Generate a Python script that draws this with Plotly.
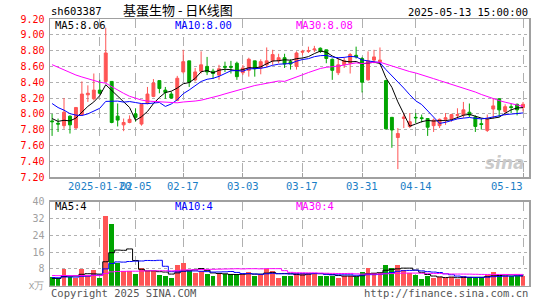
import plotly.graph_objects as go

# ---------------- data ----------------
opens = [7.91, 7.88, 7.85, 7.97, 7.82, 7.99, 8.24, 8.19, 8.30, 8.41,
         8.41, 7.97, 7.86, 7.89, 8.00, 7.87, 8.13, 8.22, 8.42, 8.30,
         8.25, 8.17, 8.53, 8.67, 8.43, 8.54, 8.60, 8.54, 8.49, 8.60,
         8.60, 8.64, 8.52, 8.55, 8.67, 8.58, 8.62, 8.67, 8.67, 8.71,
         8.66, 8.60, 8.78, 8.79, 8.81, 8.83, 8.81, 8.69, 8.52, 8.62,
         8.64, 8.74, 8.70, 8.43, 8.68, 8.66, 8.42, 7.955, 7.70, 7.94,
         7.84, 7.955, 7.95, 7.94, 7.85, 7.85, 7.93, 7.93, 7.98, 7.985,
         8.02, 7.96, 7.875, 7.79, 8.06, 8.19, 8.03, 8.09, 8.12, 8.08]
highs = [8.00, 7.94, 8.20, 7.98, 8.08, 8.41, 8.36, 8.51, 8.43, 9.09,
         8.41, 8.13, 7.94, 7.98, 8.07, 8.13, 8.34, 8.44, 8.42, 8.34,
         8.28, 8.48, 8.81, 8.67, 8.58, 8.79, 8.72, 8.57, 8.62, 8.66,
         8.67, 8.66, 8.62, 8.71, 8.67, 8.69, 8.84, 8.81, 8.76, 8.76,
         8.69, 8.79, 8.81, 8.85, 8.86, 8.84, 8.81, 8.70, 8.71, 8.71,
         8.77, 8.85, 8.72, 8.79, 8.81, 8.84, 8.43, 7.96, 7.82, 8.01,
         8.01, 8.01, 7.99, 7.94, 7.94, 7.94, 8.01, 8.00, 8.07, 8.15,
         8.13, 7.98, 7.94, 7.99, 8.20, 8.20, 8.12, 8.13, 8.13, 8.15]
lows = [7.72, 7.77, 7.81, 7.75, 7.81, 7.98, 8.15, 8.17, 8.25, 8.40,
        7.88, 7.84, 7.78, 7.88, 7.90, 7.85, 8.12, 8.21, 8.26, 8.19,
        8.19, 8.16, 8.51, 8.34, 8.41, 8.51, 8.49, 8.44, 8.43, 8.53,
        8.51, 8.43, 8.49, 8.47, 8.47, 8.50, 8.59, 8.62, 8.64, 8.58,
        8.56, 8.56, 8.74, 8.77, 8.78, 8.77, 8.64, 8.43, 8.49, 8.58,
        8.51, 8.70, 8.27, 8.42, 8.64, 8.62, 7.80, 7.57, 7.30, 7.82,
        7.82, 7.88, 7.89, 7.72, 7.77, 7.82, 7.86, 7.90, 7.94, 7.95,
        7.96, 7.77, 7.80, 7.77, 7.94, 7.96, 7.98, 8.01, 7.98, 8.03]
closes = [7.90, 7.87, 8.02, 7.86, 8.08, 8.25, 8.26, 8.30, 8.26, 8.77,
          7.89, 7.92, 7.89, 7.93, 7.955, 8.12, 8.25, 8.39, 8.32, 8.27,
          8.20, 8.45, 8.66, 8.40, 8.53, 8.62, 8.53, 8.51, 8.57, 8.59,
          8.59, 8.47, 8.58, 8.69, 8.57, 8.66, 8.67, 8.75, 8.71, 8.63,
          8.63, 8.77, 8.79, 8.80, 8.82, 8.79, 8.70, 8.55, 8.62, 8.67,
          8.75, 8.72, 8.40, 8.67, 8.72, 8.68, 7.81, 7.795, 7.75, 7.96,
          7.90, 7.95, 7.94, 7.83, 7.92, 7.93, 7.95, 7.99, 7.99, 8.05,
          7.985, 7.84, 7.865, 7.93, 8.10, 8.05, 8.09, 8.08, 8.05, 8.12]
volumes = [4.0, 3.2, 7.9, 4.3, 3.8, 7.9, 4.6, 7.5, 3.8, 33.2,
           29.5, 10.8, 7.0, 7.0, 5.7, 8.6, 7.0, 7.0, 5.1, 4.8,
           3.8, 9.8, 11.0, 6.9, 6.2, 6.9, 5.6, 4.8, 5.6, 5.4,
           5.4, 5.4, 5.6, 6.7, 4.4, 5.4, 7.9, 7.2, 3.8, 4.8,
           4.8, 6.0, 6.0, 6.0, 6.0, 4.8, 4.8, 4.8, 3.8, 4.8,
           4.8, 4.0, 6.5, 8.4, 6.0, 6.0, 9.8, 8.6, 9.8, 7.6,
           6.0, 5.2, 3.2, 4.8, 3.8, 4.0, 3.6, 4.3, 3.3, 4.4,
           4.0, 4.0, 4.0, 5.2, 6.3, 4.8, 4.8, 4.6, 4.6, 4.6]
# sessions before the visible window (only feed the moving averages)
prior_close = [8.90, 8.95, 9.00, 8.92, 8.98, 8.95, 8.90, 8.96,
               9.15, 9.25, 9.20, 9.10, 9.05,
               8.80, 8.70, 8.65, 8.55, 8.50, 8.45, 8.40, 8.38, 8.35,
               8.30, 8.27, 8.30, 8.05, 7.95, 7.90, 7.90]
prior_volume = [5.2, 5.6, 5.0, 5.4, 5.8, 5.1, 5.3, 5.5, 4.9, 5.2,
                5.6, 5.3, 5.0, 5.4, 5.2, 5.5, 5.1, 5.3, 5.4, 5.2,
                4.5, 4.1, 4.4, 4.2, 4.3, 3.6, 3.2, 3.5, 3.3]

tick_idx = [8, 14, 22, 32, 42, 52, 61, 79]
tick_labels = ["2025-01-20", "02-05", "02-17", "03-03", "03-17", "03-31", "04-14", "05-13"]
price_ticks = [7.2, 7.4, 7.6, 7.8, 8.0, 8.2, 8.4, 8.6, 8.8, 9.0, 9.2]
vol_ticks = [0, 8, 16, 24, 32, 40]
vol_tick_text = ["x万", "8", "16", "24", "32", "40"]

title_code = "sh603387"
title_name = "基蛋生物 - 日K线图"
stamp = "2025-05-13 15:00:00"
price_legend = ["MA5:8.06", "MA10:8.00", "MA30:8.08"]
vol_legend = ["MA5:4", "MA10:4", "MA30:4"]

# ---------------- helpers ----------------
W, H = 545, 300
RED, GREEN = "#ff5555", "#00a400"
MONO = "DejaVu Sans Mono"
MA_COLORS = ["#000000", "#0000ff", "#ff00ff"]


def px(x):
    return x / W


def py(y):
    return 1 - y / H


def moving_avg(prior, values, n):
    full = prior + values
    off = len(prior)
    out = []
    for i in range(len(values)):
        j = off + i
        out.append(sum(full[j - n + 1:j + 1]) / n)
    return out


idx = list(range(len(closes)))
bar_colors = [RED if c >= o else GREEN for o, c in zip(opens, closes)]

fig = go.Figure()
fig.add_trace(go.Candlestick(
    x=idx, open=opens, high=highs, low=lows, close=closes,
    increasing=dict(line=dict(color=RED, width=1), fillcolor=RED),
    decreasing=dict(line=dict(color=GREEN, width=1), fillcolor=GREEN),
    whiskerwidth=0, xaxis="x", yaxis="y", showlegend=False, hoverinfo="skip"))
for n, col in zip([5, 10, 30], MA_COLORS):
    fig.add_trace(go.Scatter(x=idx, y=moving_avg(prior_close, closes, n), mode="lines",
                             line=dict(color=col, width=1), xaxis="x", yaxis="y",
                             showlegend=False, hoverinfo="skip"))

fig.add_trace(go.Bar(x=idx, y=volumes, marker=dict(color=bar_colors, line=dict(width=0)),
                     width=0.82, xaxis="x2", yaxis="y2", showlegend=False, hoverinfo="skip"))
for n, col in zip([5, 10, 30], MA_COLORS):
    fig.add_trace(go.Scatter(x=idx, y=moving_avg(prior_volume, volumes, n), mode="lines",
                             line=dict(color=col, width=1, shape="hvh"), xaxis="x2", yaxis="y2",
                             showlegend=False, hoverinfo="skip"))

XDOM = [px(50), px(529)]
XR = [-0.35, 80.0]
axis_common = dict(showline=True, mirror=True, linecolor="#a0a0a0", linewidth=1.5,
                   zeroline=False, fixedrange=True)

fig.update_layout(
    width=W, height=H, margin=dict(l=0, r=0, t=0, b=0, autoexpand=False),
    paper_bgcolor="white", plot_bgcolor="white",
    font=dict(family=MONO, size=10, color="#000"),
    bargap=0, hovermode=False,
    xaxis=dict(domain=XDOM, range=XR, anchor="y", tickvals=tick_idx, showticklabels=False,
               showgrid=True, gridcolor="#b0b0b0", griddash="dash", gridwidth=1,
               ticks="inside", ticklen=4, tickcolor="#a0a0a0",
               rangeslider=dict(visible=False), **axis_common),
    yaxis=dict(domain=[py(177), py(19)], range=[7.2, 9.2], anchor="x",
               tickvals=price_ticks, ticktext=["%.2f" % v for v in price_ticks],
               tickfont=dict(color="#ff0000", size=10, family=MONO),
               showgrid=True, gridcolor="#b0b0b0", griddash="dot", gridwidth=1,
               ticks="", ticklabelstandoff=2, **axis_common),
    xaxis2=dict(domain=XDOM, range=XR, anchor="y2", tickvals=tick_idx, showticklabels=False,
                showgrid=True, gridcolor="#b0b0b0", griddash="dash", gridwidth=1,
                **axis_common),
    yaxis2=dict(domain=[py(285.7), py(201.7)], range=[0, 40], anchor="x2",
                tickvals=vol_ticks, ticktext=vol_tick_text,
                tickfont=dict(color="#a0a0a0", size=10, family=MONO),
                showgrid=True, gridcolor="#b0b0b0", griddash="dot", gridwidth=1,
                ticks="", ticklabelstandoff=2, **axis_common),
)

ann = []


def text(x, y, s, color="#000", size=10, anchor="left", family=MONO, xref="paper", **kw):
    ann.append(dict(x=x, y=y, xref=xref, yref="paper", text=s, showarrow=False,
                    xanchor=anchor, yanchor="middle", font=dict(color=color, size=size, family=family),
                    **kw))


text(px(49), py(11), title_code, "#000", 10.5)
text(px(178), py(10), title_name, "#000", 13, anchor="center", family="Noto Sans CJK SC")
text(px(530), py(11.5), stamp, "#000", 10.5, anchor="right")

for s, col, x0 in zip(price_legend, MA_COLORS, [53, 173, 294]):
    text(px(x0), py(24.5), s, col, 10.5)
for s, col, x0 in zip(vol_legend, MA_COLORS, [53, 173, 294]):
    text(px(x0), py(206), s, col, 10.5)

for i, lab in zip(tick_idx, tick_labels):
    if i == tick_idx[-1]:
        text(i + 0.25, py(186), lab, "#1a7ec6", 10.5, anchor="right", xref="x")
    else:
        text(i, py(186), lab, "#1a7ec6", 10.5, anchor="center", xref="x")

text(px(49), py(292.5), "Copyright 2025 SINA.COM", "#555555", 10.5)
text(px(530), py(292.5), "http://finance.sina.com.cn", "#555555", 10.5, anchor="right")

# faint sina watermark
ann.append(dict(x=px(527), y=py(163), xref="paper", yref="paper", text="sina", showarrow=False,
                xanchor="right", yanchor="middle",
                font=dict(color="rgba(185,185,185,0.75)", size=17, family="DejaVu Sans",
                          weight="bold", style="italic")))

fig.update_layout(annotations=ann)
fig.write_html("out.html", config={"displayModeBar": False, "staticPlot": True},
               post_script="document.body.style.margin='0px';document.body.style.overflow='hidden';")
